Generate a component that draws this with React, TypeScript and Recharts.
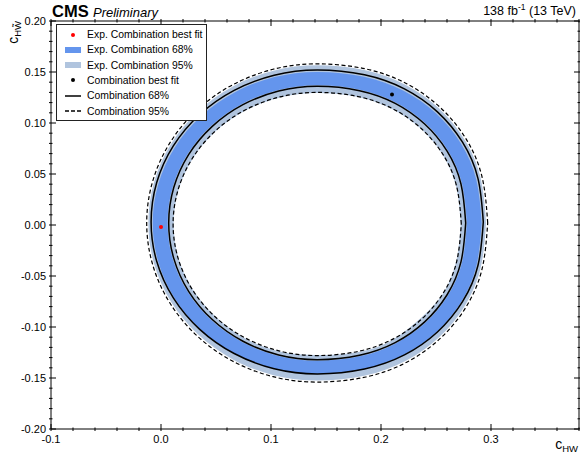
import React from 'react';
import { ScatterChart, Scatter, XAxis, YAxis } from 'recharts';

const FONT = '"Liberation Sans", Arial, Helvetica, sans-serif';
const C68 = '#6495ED';
const C95 = '#B0C4DE';

// axis ranges and labelled ticks
const xDomain: [number, number] = [-0.1, 0.38];
const yDomain: [number, number] = [-0.2, 0.2];
const xMajor = [-0.1, 0.0, 0.1, 0.2, 0.3];
const yMajor = [-0.2, -0.15, -0.1, -0.05, 0.0, 0.05, 0.1, 0.15, 0.2];
const xMinor = Array.from({ length: 25 }, (_, i) => Math.round((-0.1 + i * 0.02) * 1000) / 1000);
const yMinor = Array.from({ length: 41 }, (_, i) => Math.round((-0.2 + i * 0.01) * 1000) / 1000);

// expected contours (filled bands)
const exp95Outer: [number, number][] = [
  [0.2955, 0.002], [0.2906, 0.046], [0.2763, 0.0831], [0.2531, 0.1139], [0.2226, 0.1372], [0.1858, 0.1516],
  [0.142, 0.1565], [0.1022, 0.1513], [0.0653, 0.1358], [0.0335, 0.1112], [0.0091, 0.0793], [-0.0063, 0.042],
  [-0.0115, 0.002], [-0.0063, -0.038], [0.0091, -0.0753], [0.0335, -0.1072], [0.0653, -0.1318], [0.1022, -0.1473],
  [0.142, -0.1525], [0.1858, -0.1476], [0.2226, -0.1332], [0.2531, -0.1099], [0.2763, -0.0791], [0.2906, -0.042],
];
const exp68Outer: [number, number][] = [
  [0.2915, 0.002], [0.2867, 0.0442], [0.2728, 0.0797], [0.2502, 0.1092], [0.2205, 0.1315], [0.1846, 0.1453],
  [0.142, 0.15], [0.1033, 0.145], [0.0673, 0.1302], [0.0363, 0.1066], [0.0125, 0.076], [-0.0024, 0.0403],
  [-0.0075, 0.002], [-0.0024, -0.0363], [0.0125, -0.072], [0.0363, -0.1026], [0.0673, -0.1262], [0.1033, -0.141],
  [0.142, -0.146], [0.1846, -0.1413], [0.2205, -0.1275], [0.2502, -0.1052], [0.2728, -0.0757], [0.2867, -0.0402],
];
const exp68Inner: [number, number][] = [
  [0.278, 0.002], [0.2737, 0.0405], [0.261, 0.0729], [0.2405, 0.0997], [0.2134, 0.1201], [0.1808, 0.1327],
  [0.142, 0.137], [0.1068, 0.1324], [0.074, 0.1189], [0.0459, 0.0975], [0.0242, 0.0695], [0.0106, 0.037],
  [0.006, 0.002], [0.0106, -0.033], [0.0242, -0.0655], [0.0459, -0.0935], [0.074, -0.1149], [0.1068, -0.1284],
  [0.142, -0.133], [0.1808, -0.1287], [0.2134, -0.1161], [0.2405, -0.0957], [0.261, -0.0689], [0.2737, -0.0365],
];
const exp95Inner: [number, number][] = [
  [0.2725, 0.001], [0.2683, 0.0376], [0.2562, 0.0685], [0.2365, 0.094], [0.2105, 0.1134], [0.1792, 0.1254],
  [0.142, 0.1295], [0.1082, 0.1251], [0.0768, 0.1123], [0.0497, 0.0919], [0.029, 0.0653], [0.0159, 0.0343],
  [0.0115, 0.001], [0.0159, -0.0323], [0.029, -0.0633], [0.0497, -0.0899], [0.0768, -0.1113], [0.1082, -0.1241],
  [0.142, -0.1275], [0.1792, -0.1244], [0.2105, -0.1124], [0.2365, -0.0909], [0.2562, -0.0675], [0.2683, -0.0356],
];

// observed contours (lines)
const obs95Outer: [number, number][] = [
  [0.297, 0.002], [0.292, 0.0465], [0.2776, 0.0839], [0.2542, 0.1149], [0.2234, 0.1385], [0.1862, 0.153],
  [0.142, 0.158], [0.1019, 0.1527], [0.0645, 0.1371], [0.0324, 0.1123], [0.0078, 0.08], [-0.0077, 0.0424],
  [-0.013, 0.002], [-0.0077, -0.0384], [0.0078, -0.076], [0.0324, -0.1083], [0.0645, -0.1331], [0.1019, -0.1487],
  [0.142, -0.154], [0.1862, -0.149], [0.2234, -0.1345], [0.2542, -0.1109], [0.2776, -0.0799], [0.292, -0.0425],
];
const obs68Outer: [number, number][] = [
  [0.293, 0.003], [0.2882, 0.0455], [0.2741, 0.0812], [0.2513, 0.1109], [0.2213, 0.1334], [0.185, 0.1472],
  [0.142, 0.152], [0.1029, 0.1469], [0.0665, 0.132], [0.0352, 0.1083], [0.0112, 0.0775], [-0.0039, 0.0416],
  [-0.009, 0.003], [-0.0039, -0.0356], [0.0112, -0.0715], [0.0352, -0.1023], [0.0665, -0.126], [0.1029, -0.1409],
  [0.142, -0.146], [0.185, -0.1412], [0.2213, -0.1274], [0.2513, -0.1049], [0.2741, -0.0752], [0.2882, -0.0395],
];
const obs68Inner: [number, number][] = [
  [0.277, 0.002], [0.2727, 0.0402], [0.2601, 0.0724], [0.2397, 0.099], [0.2129, 0.1193], [0.1805, 0.1317],
  [0.142, 0.136], [0.107, 0.1314], [0.0745, 0.118], [0.0466, 0.0967], [0.0251, 0.069], [0.0116, 0.0367],
  [0.007, 0.002], [0.0116, -0.0327], [0.0251, -0.065], [0.0466, -0.0927], [0.0745, -0.114], [0.107, -0.1274],
  [0.142, -0.132], [0.1805, -0.1277], [0.2129, -0.1153], [0.2397, -0.095], [0.2601, -0.0684], [0.2727, -0.0362],
];
const obs95Inner: [number, number][] = [
  [0.273, 0.001], [0.2688, 0.0378], [0.2566, 0.0687], [0.2368, 0.0944], [0.2108, 0.1139], [0.1793, 0.1259],
  [0.142, 0.13], [0.1081, 0.1256], [0.0765, 0.1127], [0.0494, 0.0922], [0.0286, 0.0655], [0.0155, 0.0344],
  [0.011, 0.001], [0.0155, -0.0324], [0.0286, -0.0635], [0.0494, -0.0902], [0.0765, -0.1107], [0.1081, -0.1236],
  [0.142, -0.128], [0.1793, -0.1239], [0.2108, -0.1119], [0.2368, -0.0924], [0.2566, -0.0667], [0.2688, -0.0358],
];

// best fit points
const expBestFit = [{ x: 0.0, y: -0.002 }];
const obsBestFit = [{ x: 0.21, y: 0.128 }];

const closed = (c: [number, number][]) => [...c, c[0]].map(([x, y]) => ({ x, y }));

const isMajor = (v: number, majors: number[]) => majors.some(m => Math.abs(m - v) < 1e-6);
const noShape = () => <g />;

function BottomTick({ x, y, payload }: any) {
  const major = isMajor(payload.value, xMajor);
  return (
    <g>
      <line x1={x} x2={x} y1={y} y2={y - (major ? 7 : 3.5)} stroke="#000" />
      {major && (
        <text x={x} y={y + 12} textAnchor="middle" fontSize={11} fontFamily={FONT} fill="#000">
          {payload.value.toFixed(1)}
        </text>
      )}
    </g>
  );
}

function TopTick({ x, y, payload }: any) {
  const major = isMajor(payload.value, xMajor);
  return <line x1={x} x2={x} y1={y} y2={y + (major ? 7 : 3.5)} stroke="#000" />;
}

function LeftTick({ x, y, payload }: any) {
  const major = isMajor(payload.value, yMajor);
  const v = Math.abs(payload.value) < 1e-9 ? 0 : payload.value;
  return (
    <g>
      <line x1={x} x2={x + (major ? 7 : 3.5)} y1={y} y2={y} stroke="#000" />
      {major && (
        <text x={x - 3} y={y + 4} textAnchor="end" fontSize={11} fontFamily={FONT} fill="#000">
          {v.toFixed(2)}
        </text>
      )}
    </g>
  );
}

function RightTick({ x, y, payload }: any) {
  const major = isMajor(payload.value, yMajor);
  return <line x1={x} x2={x - (major ? 7 : 3.5)} y1={y} y2={y} stroke="#000" />;
}

const legendItems = [
  { label: 'Exp. Combination best fit', kind: 'dot', color: '#ff0000' },
  { label: 'Exp. Combination 68%', kind: 'box', color: C68 },
  { label: 'Exp. Combination 95%', kind: 'box', color: C95 },
  { label: 'Combination best fit', kind: 'dot', color: '#000' },
  { label: 'Combination 68%', kind: 'line', color: '#000' },
  { label: 'Combination 95%', kind: 'dash', color: '#000' },
];

function LegendSymbol({ kind, color }: { kind: string; color: string }) {
  return (
    <svg width={18} height={10} style={{ display: 'block' }}>
      {kind === 'dot' && <circle cx={9} cy={5} r={2} fill={color} />}
      {kind === 'box' && <rect x={1} y={2} width={16} height={6} fill={color} />}
      {kind === 'line' && <line x1={1} x2={17} y1={5} y2={5} stroke={color} strokeWidth={1.5} />}
      {kind === 'dash' && (
        <line x1={1} x2={17} y1={5} y2={5} stroke={color} strokeWidth={1.5} strokeDasharray="4 2" />
      )}
    </svg>
  );
}

export default function App() {
  const fillLine = (color: string) => ({ fill: color, stroke: 'none' });
  const solid = { stroke: '#000', strokeWidth: 1.5 };
  const dashed = { stroke: '#000', strokeWidth: 1.2, strokeDasharray: '4 2.5' };
  return (
    <div style={{ position: 'relative', width: 580, height: 457, background: '#fff', fontFamily: FONT }}>
      <style>{'body{margin:0}'}</style>
      <ScatterChart width={580} height={457} margin={{ top: 20, right: 0, bottom: 27, left: 50 }}>
        <XAxis
          dataKey="x"
          type="number"
          domain={xDomain}
          allowDataOverflow
          ticks={xMinor}
          interval={0}
          height={1}
          tickSize={0}
          tickLine={false}
          axisLine={{ stroke: '#000' }}
          tick={BottomTick}
        />
        <XAxis
          xAxisId="top"
          orientation="top"
          dataKey="x"
          type="number"
          domain={xDomain}
          allowDataOverflow
          ticks={xMinor}
          interval={0}
          height={1}
          tickSize={0}
          tickLine={false}
          axisLine={{ stroke: '#000' }}
          tick={TopTick}
        />
        <YAxis
          dataKey="y"
          type="number"
          domain={yDomain}
          allowDataOverflow
          ticks={yMinor}
          interval={0}
          width={1}
          tickSize={0}
          tickLine={false}
          axisLine={{ stroke: '#000' }}
          tick={LeftTick}
        />
        <YAxis
          yAxisId="right"
          orientation="right"
          dataKey="y"
          type="number"
          domain={yDomain}
          allowDataOverflow
          ticks={yMinor}
          interval={0}
          width={1}
          tickSize={0}
          tickLine={false}
          axisLine={{ stroke: '#000' }}
          tick={RightTick}
        />

        {/* expected bands, layered */}
        <Scatter data={closed(exp95Outer)} shape={noShape} line={fillLine(C95)} lineJointType="natural" isAnimationActive={false} />
        <Scatter data={closed(exp68Outer)} shape={noShape} line={fillLine(C68)} lineJointType="natural" isAnimationActive={false} />
        <Scatter data={closed(exp68Inner)} shape={noShape} line={fillLine(C95)} lineJointType="natural" isAnimationActive={false} />
        <Scatter data={closed(exp95Inner)} shape={noShape} line={fillLine('#fff')} lineJointType="natural" isAnimationActive={false} />

        {/* observed contours */}
        <Scatter data={closed(obs68Outer)} shape={noShape} line={solid} lineJointType="natural" isAnimationActive={false} />
        <Scatter data={closed(obs68Inner)} shape={noShape} line={solid} lineJointType="natural" isAnimationActive={false} />
        <Scatter data={closed(obs95Outer)} shape={noShape} line={dashed} lineJointType="natural" isAnimationActive={false} />
        <Scatter data={closed(obs95Inner)} shape={noShape} line={dashed} lineJointType="natural" isAnimationActive={false} />

        <Scatter data={expBestFit} fill="#ff0000" shape={(p: any) => <circle cx={p.cx} cy={p.cy} r={2} fill="#ff0000" />} isAnimationActive={false} />
        <Scatter data={obsBestFit} fill="#000" shape={(p: any) => <circle cx={p.cx} cy={p.cy} r={2} fill="#000" />} isAnimationActive={false} />
      </ScatterChart>

      <svg width={580} height={457} style={{ position: 'absolute', left: 0, top: 0, pointerEvents: 'none' }}>
        <text x={52} y={17} fontFamily={FONT} fontSize={16.5} fontWeight="bold" fill="#000">CMS</text>
        <text x={93} y={17} fontFamily={FONT} fontSize={13} fontStyle="italic" fill="#000">Preliminary</text>
        <text x={576} y={15} textAnchor="end" fontFamily={FONT} fontSize={12.5} fill="#000">
          138 fb<tspan fontSize={8.5} dy={-5}>-1</tspan><tspan dy={5}> (13 TeV)</tspan>
        </text>
        <text x={578} y={449} textAnchor="end" fontFamily={FONT} fontSize={14} fill="#000">
          c<tspan fontSize={9.5} dy={3}>HW</tspan>
        </text>
        <text transform="translate(18,21) rotate(-90)" textAnchor="end" fontFamily={FONT} fontSize={14} fill="#000">
          c<tspan fontSize={9.5} dy={3}>{'HW\u0303'}</tspan>
        </text>
      </svg>

      <div
        style={{
          position: 'absolute',
          left: 56,
          top: 24,
          width: 151,
          height: 97,
          boxSizing: 'border-box',
          border: '1px solid #222',
          background: '#fff',
        }}
      >
        {legendItems.map((it, i) => (
          <div
            key={it.label}
            style={{
              position: 'absolute',
              left: 7,
              top: 2 + i * 15.3,
              height: 15,
              display: 'flex',
              alignItems: 'center',
              whiteSpace: 'nowrap',
            }}
          >
            <LegendSymbol kind={it.kind} color={it.color} />
            <span style={{ marginLeft: 5, fontSize: 10.4, color: '#000' }}>{it.label}</span>
          </div>
        ))}
      </div>
    </div>
  );
}
